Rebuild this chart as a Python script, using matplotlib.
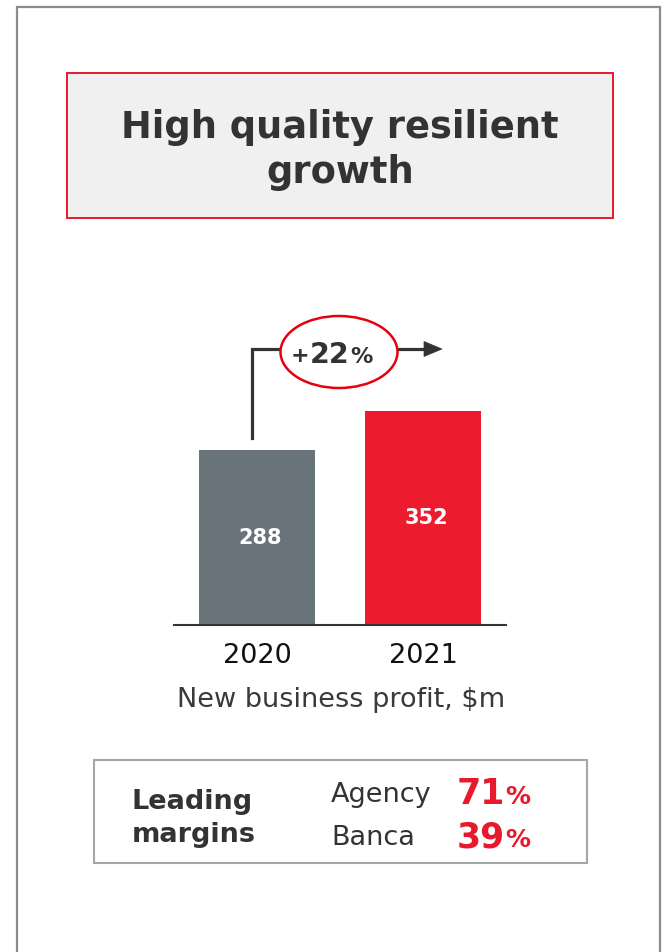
import matplotlib
matplotlib.use("Agg")
import matplotlib.pyplot as plt
from matplotlib.patches import Rectangle, Ellipse, Polygon

# ---- data ----
years = ["2020", "2021"]
nbp = [288, 352]
bar_colors = ["#69747a", "#ec1c2e"]
growth_pct = "22"
title = "High quality resilient\ngrowth"
axis_caption = "New business profit, $m"
margin_header = "Leading\nmargins"
channels = ["Agency", "Banca"]
margins = ["71", "39"]

W, H = 666, 952
fig = plt.figure(figsize=(W / 100, H / 100), dpi=100)
fig.patch.set_facecolor("white")

# overlay axes in pixel coordinates for decorations
ov = fig.add_axes([0, 0, 1, 1])
ov.set_xlim(0, W)
ov.set_ylim(H, 0)
ov.axis("off")

dark = "#333333"
red = "#e8192c"

# panel border
ov.plot([17, 17, 660, 660], [960, 7, 7, 960], color="#8c8c8c", lw=1.6, solid_joinstyle="miter")

# title box
ov.add_patch(Rectangle((67, 73), 546, 145, facecolor="#f0f0f0", edgecolor=red, lw=1.4))
ov.text(340, 138, title.split("\n")[0], ha="center", va="baseline", fontsize=26.5,
        fontweight="bold", color=dark)
ov.text(340, 183, title.split("\n")[1], ha="center", va="baseline", fontsize=26.5,
        fontweight="bold", color=dark)

# bar chart axes
x0, x1, ybase, ytop = 174, 506, 625, 300
ax = fig.add_axes([x0 / W, (H - ybase) / H, (x1 - x0) / W, (ybase - ytop) / H])
ax.patch.set_alpha(0)
xs = list(range(len(years)))
ax.bar(xs, nbp, width=0.693, color=bar_colors)
ax.set_xlim(-0.5, 1.5)
ax.set_ylim(0, (ybase - ytop) * nbp[0] / 175.0)
for s in ["top", "left", "right"]:
    ax.spines[s].set_visible(False)
ax.spines["bottom"].set_color(dark)
ax.spines["bottom"].set_linewidth(1.5)
ax.set_yticks([])
ax.set_xticks(xs)
ax.set_xticklabels(years, fontsize=19.5, color="#111111")
ax.tick_params(axis="x", length=0, pad=13)
for x, v in zip(xs, nbp):
    ax.text(x + 0.02, v / 2, str(v), ha="center", va="center", color="white",
            fontsize=15, fontweight="bold")

# caption
ov.text(341, 707, axis_caption, ha="center", va="baseline", fontsize=19.5, color="#3a3a3a")

# growth arrow
ov.plot([252, 252, 428], [438, 349, 349], color=dark, lw=2.3, solid_joinstyle="miter", zorder=2)
ov.add_patch(Polygon([(424, 341.5), (442, 349), (424, 356.5)], closed=True,
                     facecolor=dark, edgecolor=dark, lw=0.5, zorder=2))
ov.add_patch(Ellipse((339, 352), 117, 72, facecolor="white", edgecolor="#e8000f", lw=1.8, zorder=3))
ov.text(291, 362, "+", ha="left", va="baseline", fontsize=16, fontweight="bold", color=dark, zorder=4)
ov.text(310, 363, growth_pct, ha="left", va="baseline", fontsize=20.5, fontweight="bold", color=dark, zorder=4)
ov.text(350, 363, "%", ha="left", va="baseline", fontsize=16, fontweight="bold", color=dark, zorder=4)

# margins box
ov.add_patch(Rectangle((94, 760), 493, 103, facecolor="white", edgecolor="#a6a6a6", lw=1.5))
hdr = margin_header.split("\n")
ov.text(132, 809, hdr[0], ha="left", va="baseline", fontsize=19.5, fontweight="bold", color=dark)
ov.text(132, 842, hdr[1], ha="left", va="baseline", fontsize=19.5, fontweight="bold", color=dark)
for i, (ch, m) in enumerate(zip(channels, margins)):
    yb = 802 + i * 43
    ov.text(331, yb, ch, ha="left", va="baseline", fontsize=19.5, color=dark)
    ov.text(457, yb + 2, m, ha="left", va="baseline", fontsize=25, fontweight="bold", color=red)
    ov.text(505, yb + 2, "%", ha="left", va="baseline", fontsize=18, fontweight="bold", color=red)

fig.savefig("out.png", dpi=100, facecolor="white")
